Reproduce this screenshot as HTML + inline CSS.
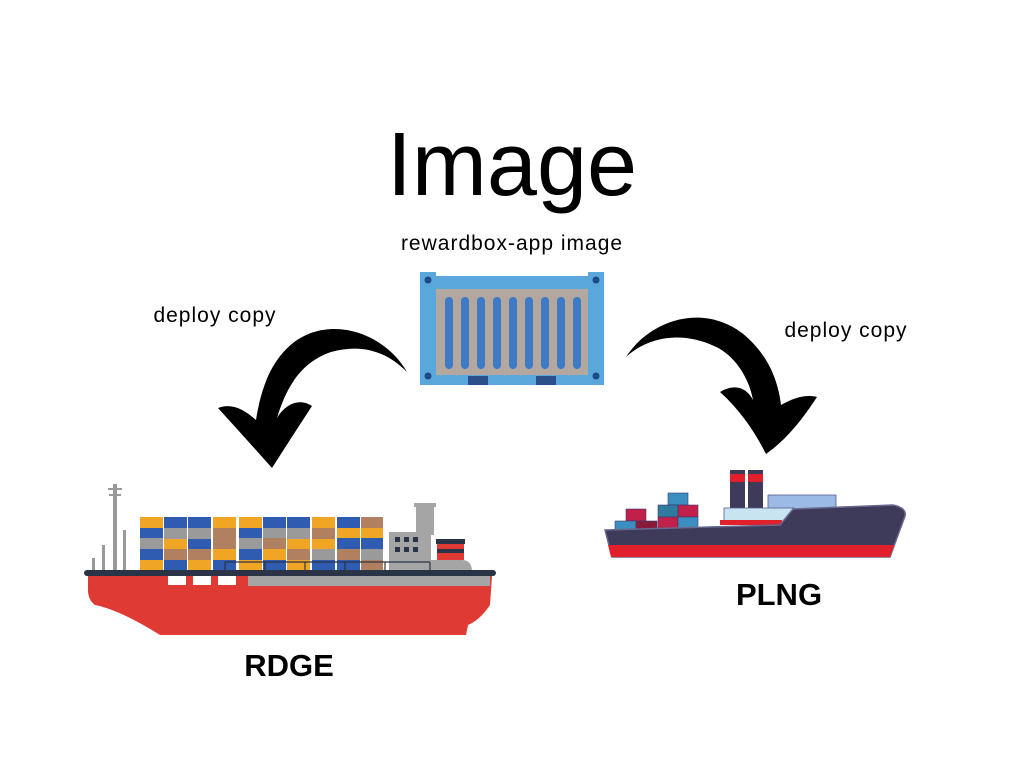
<!DOCTYPE html>
<html><head><meta charset="utf-8"><style>
html,body{margin:0;padding:0;background:#fff}
svg{display:block}
text{font-family:"Liberation Sans",sans-serif;fill:#000}
</style></head><body>
<svg width="1024" height="768" viewBox="0 0 1024 768" xmlns="http://www.w3.org/2000/svg">
<rect width="1024" height="768" fill="#fff"/>
<text x="512" y="195" font-size="90" text-anchor="middle">Image</text>
<text x="512" y="250" font-size="21" letter-spacing="1" text-anchor="middle">rewardbox-app image</text>
<text x="215" y="322" font-size="21" letter-spacing="1" text-anchor="middle">deploy copy</text>
<text x="846" y="337" font-size="21" letter-spacing="1" text-anchor="middle">deploy copy</text>
<text x="289" y="676" font-size="31" font-weight="bold" text-anchor="middle">RDGE</text>
<text x="779" y="605" font-size="31" font-weight="bold" text-anchor="middle">PLNG</text>

<!-- arrows -->
<path d="M407,372 C385,333 330,314 293,343 C268,363 260,395 256,420 C243,408 230,403 218,408 C238,430 256,450 272,468 C286,446 299,426 312,406 C300,398 286,403 277,418 C287,385 302,362 331,352 C360,344 385,350 407,372 Z" fill="#000"/>
<path d="M626,357 C650,320 702,303 742,333 C768,354 778,380 781,405 C793,398 806,394 817,397 C802,420 786,440 766,454 C755,432 740,410 720,392 C735,383 747,388 753,400 C749,378 735,355 714,346 C684,332 650,335 626,357 Z" fill="#000"/>

<!-- container -->
<rect x="420" y="276" width="184" height="109" fill="#5aa7dc"/>
<rect x="420" y="272" width="16" height="10" fill="#5aa7dc"/>
<rect x="588" y="272" width="16" height="10" fill="#5aa7dc"/>
<rect x="436" y="289" width="152" height="86" fill="#b2a8a0"/>
<g fill="#3f7ac4">
<rect x="445" y="297" width="8" height="72" rx="4"/><rect x="461" y="297" width="8" height="72" rx="4"/><rect x="477" y="297" width="8" height="72" rx="4"/><rect x="493" y="297" width="8" height="72" rx="4"/><rect x="509" y="297" width="8" height="72" rx="4"/><rect x="525" y="297" width="8" height="72" rx="4"/><rect x="541" y="297" width="8" height="72" rx="4"/><rect x="557" y="297" width="8" height="72" rx="4"/><rect x="573" y="297" width="8" height="72" rx="4"/>
</g>
<rect x="468" y="376" width="20" height="9" fill="#2a4f8a"/><rect x="536" y="376" width="20" height="9" fill="#2a4f8a"/>
<g fill="#1f4a80"><circle cx="428" cy="280" r="3.5"/><circle cx="596" cy="280" r="3.5"/><circle cx="428" cy="376" r="3.5"/><circle cx="596" cy="376" r="3.5"/></g>

<!-- big ship -->
<g fill="#999">
<rect x="113" y="484" width="4" height="88"/><rect x="108" y="488" width="14" height="2"/><rect x="109" y="494" width="12" height="2"/>
<rect x="123" y="530" width="3" height="42"/><rect x="102" y="545" width="3" height="27"/><rect x="92" y="558" width="3" height="14"/>
</g>
<g>
<g fill="#f0a524">
<rect x="140" y="517" width="23" height="11"/><rect x="140" y="560" width="23" height="11"/><rect x="213" y="517" width="23" height="11"/><rect x="213" y="549" width="23" height="11"/><rect x="239" y="517" width="23" height="11"/><rect x="239" y="560" width="23" height="11"/><rect x="312" y="517" width="23" height="11"/><rect x="312" y="538" width="23" height="11"/><rect x="337" y="528" width="23" height="11"/><rect x="361" y="528" width="22" height="11"/><rect x="164" y="538" width="23" height="11"/><rect x="287" y="538" width="23" height="11"/><rect x="188" y="560" width="23" height="11"/><rect x="263" y="549" width="23" height="11"/><rect x="287" y="560" width="23" height="11"/>
</g>
<g fill="#2f5bb0">
<rect x="164" y="517" width="23" height="11"/><rect x="188" y="517" width="23" height="11"/><rect x="263" y="517" width="23" height="11"/><rect x="287" y="517" width="23" height="11"/><rect x="337" y="517" width="23" height="11"/><rect x="140" y="528" width="23" height="11"/><rect x="239" y="528" width="23" height="11"/><rect x="188" y="538" width="23" height="11"/><rect x="140" y="549" width="23" height="11"/><rect x="337" y="538" width="23" height="11"/><rect x="361" y="538" width="22" height="11"/><rect x="164" y="560" width="23" height="11"/><rect x="213" y="560" width="23" height="11"/><rect x="263" y="560" width="23" height="11"/><rect x="312" y="560" width="23" height="11"/><rect x="337" y="560" width="23" height="11"/><rect x="239" y="549" width="23" height="11"/>
</g>
<g fill="#9a9a9a">
<rect x="164" y="528" width="23" height="11"/><rect x="188" y="528" width="23" height="11"/><rect x="263" y="528" width="23" height="11"/><rect x="287" y="528" width="23" height="11"/><rect x="140" y="538" width="23" height="11"/><rect x="239" y="538" width="23" height="11"/><rect x="312" y="549" width="23" height="11"/><rect x="361" y="549" width="22" height="11"/>
</g>
<g fill="#b08060">
<rect x="361" y="517" width="22" height="11"/><rect x="213" y="528" width="23" height="11"/><rect x="312" y="528" width="23" height="11"/><rect x="213" y="538" width="23" height="11"/><rect x="263" y="538" width="23" height="11"/><rect x="164" y="549" width="23" height="11"/><rect x="188" y="549" width="23" height="11"/><rect x="287" y="549" width="23" height="11"/><rect x="337" y="549" width="23" height="11"/><rect x="361" y="560" width="22" height="11"/>
</g>
</g>
<rect x="389" y="532" width="42" height="40" fill="#a5a5a5"/>
<rect x="416" y="505" width="18" height="30" fill="#a5a5a5"/>
<rect x="414" y="503" width="22" height="4" fill="#a5a5a5"/>
<path d="M430,560 H462 Q472,560 472,572 H430 Z" fill="#a5a5a5"/>
<g fill="#2b3446"><rect x="395" y="537" width="5" height="5"/><rect x="404" y="537" width="5" height="5"/><rect x="413" y="537" width="5" height="5"/><rect x="395" y="547" width="5" height="5"/><rect x="404" y="547" width="5" height="5"/><rect x="413" y="547" width="5" height="5"/></g>
<rect x="437" y="540" width="27" height="20" fill="#e03a35"/>
<rect x="436" y="539" width="29" height="5" fill="#2b3446"/>
<rect x="437" y="549" width="27" height="4" fill="#2b3446"/>
<path d="M225,562 H430 M225,562 V572 M265,562 V572 M305,562 V572 M345,562 V572 M385,562 V572 M430,562 V572" stroke="#2b3446" stroke-width="1.2" fill="none"/>
<rect x="84" y="570" width="412" height="6" rx="3" fill="#2b3446"/>
<path d="M88,576 H492 L490,605 Q480,620 468,625 L466,635 H160 Q120,610 95,605 Q88,600 88,590 Z" fill="#e03a35"/>
<rect x="248" y="576" width="242" height="10" fill="#a5a5a5"/>
<g fill="#fff"><rect x="168" y="576" width="18" height="9"/><rect x="193" y="576" width="18" height="9"/><rect x="218" y="576" width="18" height="9"/></g>

<!-- small ship -->
<rect x="730" y="470" width="15" height="40" fill="#3d3a5a"/><rect x="748" y="470" width="15" height="40" fill="#3d3a5a"/>
<rect x="730" y="474" width="15" height="8" fill="#e0202a"/><rect x="748" y="474" width="15" height="8" fill="#e0202a"/>
<rect x="768" y="495" width="68" height="14" fill="#9bbbe6" stroke="#5a5a90" stroke-width="0.8"/>
<rect x="724" y="508" width="70" height="14" fill="#c7e4f0" stroke="#5a5a90" stroke-width="0.8"/>
<rect x="720" y="520" width="62" height="5" fill="#e0202a"/>
<g stroke="#3d3a6a" stroke-width="0.6">
<rect x="668" y="493" width="20" height="12" fill="#3b8ec0"/>
<rect x="658" y="505" width="20" height="12" fill="#2e7aa0"/><rect x="678" y="505" width="20" height="12" fill="#c0204a"/>
<rect x="658" y="517" width="20" height="11" fill="#c0204a"/><rect x="678" y="517" width="20" height="11" fill="#3b8ec0"/>
<rect x="626" y="509" width="20" height="12" fill="#c0204a"/>
<rect x="615" y="521" width="21" height="10" fill="#3b8ec0"/><rect x="636" y="521" width="21" height="10" fill="#8a1a3a"/>
</g>
<path d="M605,530 L780,525 L793,509 L893,505 Q907,508 905,516 L890,557 H612 Z" fill="#3d3a5a" stroke="#6a6890" stroke-width="1.5"/>
<path d="M608,545 H894 L890,557 H611 Z" fill="#e0202a"/>
</svg>
</body></html>
